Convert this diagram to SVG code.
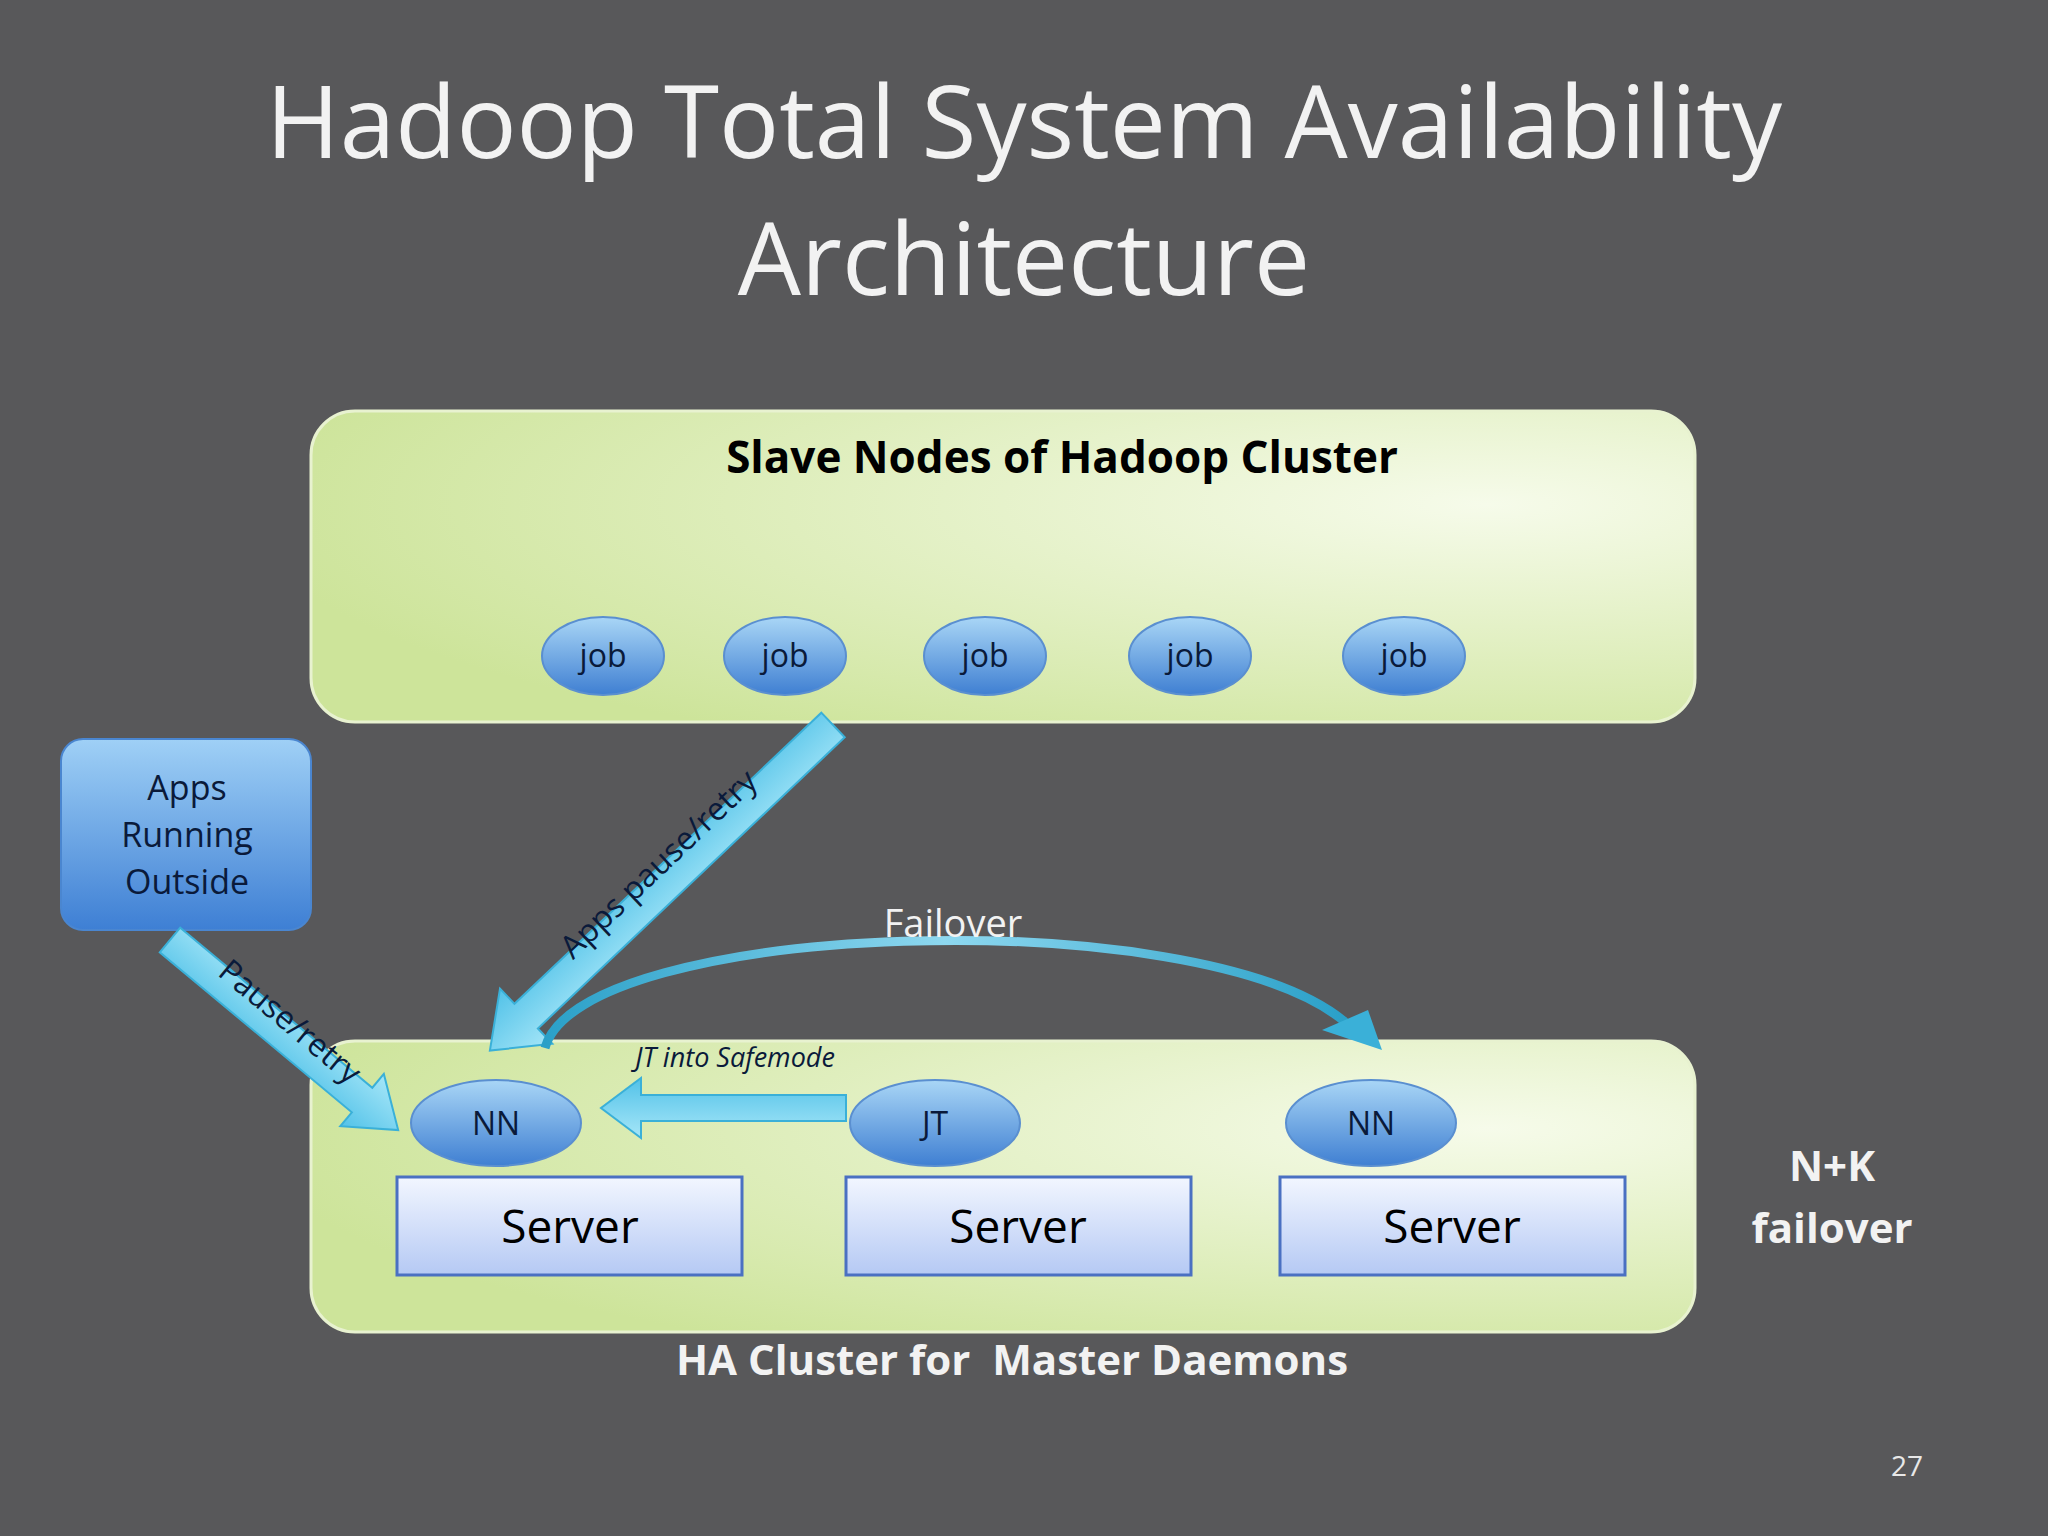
<svg xmlns="http://www.w3.org/2000/svg" width="2048" height="1536" viewBox="0 0 2048 1536">
<defs>
<radialGradient id="panel" cx="0.85" cy="0.3" r="0.9"><stop offset="0" stop-color="#f6fbea"/><stop offset="1" stop-color="#cde49a"/></radialGradient>
<linearGradient id="blob" x1="0" y1="0" x2="0" y2="1"><stop offset="0" stop-color="#a9d6f6"/><stop offset="1" stop-color="#3f7fd2"/></linearGradient>
<linearGradient id="srv" x1="0" y1="0" x2="0" y2="1"><stop offset="0" stop-color="#f2f6ff"/><stop offset="1" stop-color="#b5c9f4"/></linearGradient>
<linearGradient id="apps" x1="0" y1="0" x2="0" y2="1"><stop offset="0" stop-color="#9fd0f6"/><stop offset="1" stop-color="#3e7fd4"/></linearGradient>
<linearGradient id="arr" x1="0" y1="0" x2="0" y2="1"><stop offset="0" stop-color="#a6e6f8"/><stop offset="1" stop-color="#52c2e8"/></linearGradient>
<linearGradient id="fo" x1="0" y1="0" x2="1" y2="0"><stop offset="0" stop-color="#2aa0c8"/><stop offset="0.5" stop-color="#8ed8f0"/><stop offset="1" stop-color="#2aa0c8"/></linearGradient>
</defs>
<style>
.t{font-family:"Open Sans","Liberation Sans",sans-serif}
.panel{fill:url(#panel);stroke:#e8f2d0;stroke-width:3}
.blob{fill:url(#blob);stroke:#5a8fd0;stroke-width:2}
.srv{fill:url(#srv);stroke:#4a70c2;stroke-width:3}
.arr{fill:url(#arr);stroke:#3ab0d8;stroke-width:2}
.bt{font-size:32px;fill:#0a1a3a;text-anchor:middle}
</style>
<rect width="2048" height="1536" fill="#58585a"/>
<text class="t" x="1024" y="158" font-size="100" fill="#f2f2f2" text-anchor="middle">Hadoop Total System Availability</text>
<text class="t" x="1024" y="295" font-size="100" fill="#f2f2f2" text-anchor="middle">Architecture</text>

<g id="slave-panel">
<rect class="panel" x="311" y="411" width="1384" height="311" rx="44"/>
<text class="t" x="1062" y="473" font-size="44" font-weight="bold" fill="#000" text-anchor="middle">Slave Nodes of Hadoop Cluster</text>
</g>
<g id="job1"><ellipse class="blob" cx="603" cy="656" rx="61" ry="39"/><text class="t bt" x="603" y="667">job</text></g>
<g id="job2"><ellipse class="blob" cx="785" cy="656" rx="61" ry="39"/><text class="t bt" x="785" y="667">job</text></g>
<g id="job3"><ellipse class="blob" cx="985" cy="656" rx="61" ry="39"/><text class="t bt" x="985" y="667">job</text></g>
<g id="job4"><ellipse class="blob" cx="1190" cy="656" rx="61" ry="39"/><text class="t bt" x="1190" y="667">job</text></g>
<g id="job5"><ellipse class="blob" cx="1404" cy="656" rx="61" ry="39"/><text class="t bt" x="1404" y="667">job</text></g>

<g id="apps">
<rect x="61" y="739" width="250" height="191" rx="22" fill="url(#apps)" stroke="#4a86d0" stroke-width="2"/>
<text class="t" font-size="34" fill="#0a1a3a" text-anchor="middle"><tspan x="187" y="800">Apps</tspan><tspan x="187" y="847">Running</tspan><tspan x="187" y="894">Outside</tspan></text>
</g>

<g id="ha-panel">
<rect class="panel" x="311" y="1041" width="1384" height="291" rx="44"/>
</g>
<text class="t" x="1012" y="1375" font-size="42" font-weight="bold" fill="#f2f2f2" text-anchor="middle" xml:space="preserve">HA Cluster for  Master Daemons</text>

<g id="nn1"><ellipse class="blob" cx="496" cy="1123" rx="85" ry="43"/><text class="t bt" x="496" y="1135">NN</text></g>
<g id="jt"><ellipse class="blob" cx="935" cy="1123" rx="85" ry="43"/><text class="t bt" x="935" y="1135">JT</text></g>
<g id="nn2"><ellipse class="blob" cx="1371" cy="1123" rx="85" ry="43"/><text class="t bt" x="1371" y="1135">NN</text></g>
<g id="server1"><rect class="srv" x="397" y="1177" width="345" height="98"/><text class="t" x="570" y="1243" font-size="46" fill="#000" text-anchor="middle">Server</text></g>
<g id="server2"><rect class="srv" x="846" y="1177" width="345" height="98"/><text class="t" x="1018" y="1243" font-size="46" fill="#000" text-anchor="middle">Server</text></g>
<g id="server3"><rect class="srv" x="1280" y="1177" width="345" height="98"/><text class="t" x="1452" y="1243" font-size="46" fill="#000" text-anchor="middle">Server</text></g>

<g id="nk"><text class="t" font-size="42" font-weight="bold" fill="#f2f2f2" text-anchor="middle"><tspan x="1832" y="1181">N+K</tspan><tspan x="1832" y="1243">failover</tspan></text></g>
<text class="t" x="1907" y="1476" font-size="28" fill="#e8e8e8" text-anchor="middle">27</text>

<g id="connectors">
<polygon class="arr" transform="translate(833,725) rotate(136.5)" points="0,-17 423,-17 423,-38 473,0 423,38 423,17 0,17"/>
<polygon class="arr" transform="translate(170,940) rotate(39.8)" points="0,-16 250,-16 250,-34 297,0 250,34 250,16 0,16"/>
<polygon class="arr" transform="translate(846,1108) rotate(180)" points="0,-13 205,-13 205,-30 245,0 205,30 205,13 0,13"/>
<path d="M545,1048 C580,920 1200,900 1345,1022" fill="none" stroke="url(#fo)" stroke-width="9"/>
<polygon points="1322,1030 1368,1010 1382,1050" fill="#3ab0d8"/>
<text class="t" transform="translate(666,872) rotate(-43.5)" font-size="32" fill="#0a1a3a" text-anchor="middle">Apps pause/retry</text>
<text class="t" transform="translate(283,1030) rotate(39.8)" font-size="32" fill="#0a1a3a" text-anchor="middle">Pause/retry</text>
<text class="t" x="735" y="1067" font-size="27" font-style="italic" fill="#0a1a3a" text-anchor="middle">JT into Safemode</text>
<text class="t" x="953" y="937" font-size="38" fill="#f2f2f2" text-anchor="middle">Failover</text>
</g>
</svg>
